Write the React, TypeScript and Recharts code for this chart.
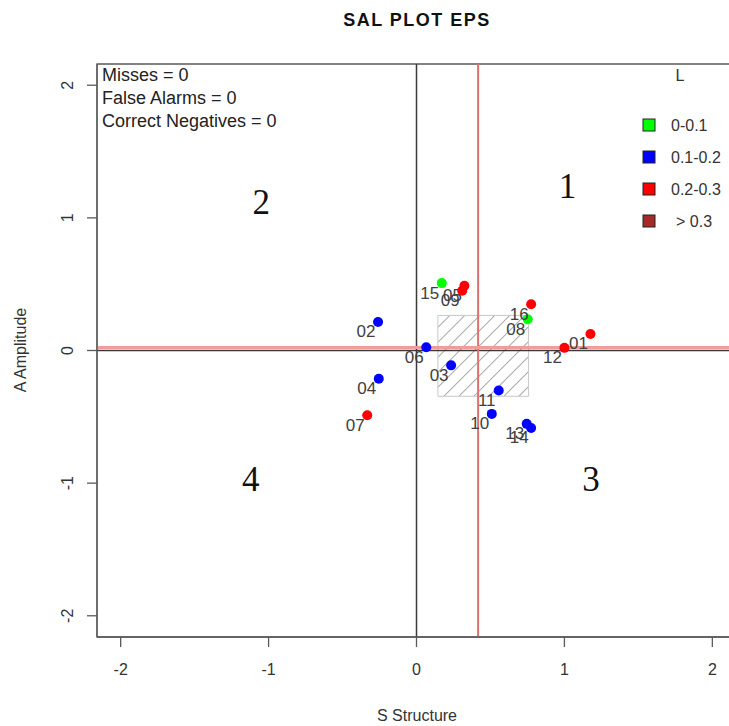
import React from 'react';
import { ScatterChart, Scatter, XAxis, YAxis, ReferenceLine, ReferenceArea } from 'recharts';

// SAL verification objects: structure (S), amplitude (A) and location class (L)
const objectIds = ['01', '02', '03', '04', '05', '06', '07', '08', '09', '10', '11', '12', '13', '14', '15', '16'];
const sValues = [1.176, -0.26, 0.234, -0.255, 0.324, 0.066, -0.333, 0.752, 0.309, 0.509, 0.556, 1.0, 0.745, 0.775, 0.171, 0.775];
const aValues = [0.125, 0.215, -0.112, -0.213, 0.488, 0.025, -0.488, 0.236, 0.45, -0.478, -0.301, 0.02, -0.553, -0.584, 0.508, 0.349];
const lClass = [2, 1, 1, 1, 2, 1, 2, 0, 2, 1, 1, 2, 1, 1, 0, 2];

const classNames = ['0-0.1', '0.1-0.2', '0.2-0.3', '> 0.3'];
const classColors = ['#00ff00', '#0000ff', '#ff0000', '#a52a2a'];

const axisTicks = [-2, -1, 0, 1, 2];
const quadrantNames = ['1', '2', '3', '4'];
const quadrantS = [1.02, -1.05, 1.18, -1.12];
const quadrantA = [1.24, 1.115, -0.97, -0.97];

const statLines = ['Misses = 0', 'False Alarms = 0', 'Correct Negatives = 0'];

const LIM = 2.16;
const SANS = '"Liberation Sans", Arial, sans-serif';
const SERIF = '"Liberation Serif", "Times New Roman", serif';

// R-style (type 7) quantile
const quantile = (vals: number[], p: number) => {
  const s = [...vals].sort((a, b) => a - b);
  const h = (s.length - 1) * p;
  const lo = Math.floor(h);
  const hi = Math.ceil(h);
  return s[lo] + (h - lo) * (s[hi] - s[lo]);
};

const points = objectIds.map((id, i) => ({ id, s: sValues[i], a: aValues[i], cls: lClass[i] }));
const quadrants = quadrantNames.map((name, i) => ({ name, s: quadrantS[i], a: quadrantA[i] }));

// medians (red cross) and interquartile box (hatched)
const sMed = quantile(sValues, 0.5);
const aMed = quantile(aValues, 0.5);
const sQ1 = quantile(sValues, 0.25);
const sQ3 = quantile(sValues, 0.75);
const aQ1 = quantile(aValues, 0.25);
const aQ3 = quantile(aValues, 0.75);

const PointShape = (props: any) => {
  const { cx, cy, payload, fill } = props;
  return (
    <g>
      <circle cx={cx} cy={cy} r={5} fill={fill} />
      <text x={cx - 12} y={cy + 10} textAnchor="middle" dominantBaseline="central"
        fontSize={17} fontFamily={SANS} fill="#404040">{payload.id}</text>
    </g>
  );
};

const QuadrantShape = (props: any) => {
  const { cx, cy, payload } = props;
  return (
    <text x={cx} y={cy} textAnchor="middle" dominantBaseline="central"
      fontSize={35} fontFamily={SERIF} fill="#111">{payload.name}</text>
  );
};

const YTick = (props: any) => {
  const { x, y, payload } = props;
  return (
    <text x={x} y={y} transform={`rotate(-90, ${x}, ${y})`} textAnchor="middle"
      fontSize={16} fontFamily={SANS} fill="#333">{payload.value}</text>
  );
};

export default function App() {
  return (
    <div style={{ position: 'absolute', left: 0, top: 0, width: 729, height: 726, overflow: 'hidden', background: '#fff' }}>
      <svg width={0} height={0} style={{ position: 'absolute' }}>
        <defs>
          <pattern id="salHatch" patternUnits="userSpaceOnUse" width={10.6} height={10.6} patternTransform="rotate(45)">
            <line x1={0} y1={0} x2={0} y2={10.6} stroke="#555" strokeWidth={1} />
          </pattern>
        </defs>
      </svg>
      <ScatterChart width={760} height={726} margin={{ top: 64, right: 24, bottom: 59, left: 57 }}>
        <XAxis type="number" dataKey="s" domain={[-LIM, LIM]} ticks={axisTicks} allowDataOverflow
          height={30} tickSize={10} tickMargin={17}
          axisLine={{ stroke: '#5a5a5a', strokeWidth: 1.3 }} tickLine={{ stroke: '#5a5a5a', strokeWidth: 1.3 }}
          tick={{ fontSize: 16, fontFamily: SANS, fill: '#333' }} />
        <YAxis type="number" dataKey="a" domain={[-LIM, LIM]} ticks={axisTicks} allowDataOverflow
          width={40} tickSize={10} tickMargin={14}
          axisLine={{ stroke: '#5a5a5a', strokeWidth: 1.3 }} tickLine={{ stroke: '#5a5a5a', strokeWidth: 1.3 }}
          tick={<YTick />} />
        <ReferenceArea x1={-LIM} x2={LIM} y1={-LIM} y2={LIM} fill="none" fillOpacity={0}
          stroke="#5a5a5a" strokeWidth={1.3} />
        <ReferenceLine x={0} stroke="#3a3a3a" strokeWidth={1.5} />
        <ReferenceLine y={0} stroke="#3a3a3a" strokeWidth={1.5} />
        <ReferenceLine x={sMed} stroke="#e07070" strokeWidth={2} />
        <ReferenceLine y={aMed} stroke="#f19b9b" strokeWidth={3} />
        <ReferenceArea x1={sQ1} x2={sQ3} y1={aQ1} y2={aQ3} fill="url(#salHatch)" fillOpacity={1}
          stroke="#c8c8c8" strokeWidth={1} />
        <Scatter data={quadrants} shape={<QuadrantShape />} isAnimationActive={false} />
        {classNames.map((name, c) => (
          <Scatter key={name} name={name} data={points.filter(p => p.cls === c)} fill={classColors[c]}
            shape={<PointShape />} isAnimationActive={false} />
        ))}
      </ScatterChart>
      <svg width={729} height={726} style={{ position: 'absolute', left: 0, top: 0, pointerEvents: 'none' }}>
        <text x={417} y={20} textAnchor="middle" dominantBaseline="central" fontSize={18} letterSpacing={1.5}
          fontWeight="bold" fontFamily={SANS} fill="#111">SAL PLOT EPS</text>
        <text x={417} y={715} textAnchor="middle" dominantBaseline="central" fontSize={16}
          fontFamily={SANS} fill="#333">S Structure</text>
        <text x={20} y={350} transform="rotate(-90, 20, 350)" textAnchor="middle" dominantBaseline="central"
          fontSize={16} fontFamily={SANS} fill="#333">A Amplitude</text>
        {statLines.map((t, i) => (
          <text key={t} x={102} y={75 + i * 23} dominantBaseline="central" fontSize={18}
            fontFamily={SANS} fill="#222">{t}</text>
        ))}
        <text x={680} y={75} textAnchor="middle" dominantBaseline="central" fontSize={16}
          fontFamily={SANS} fill="#333">L</text>
        {classNames.map((name, c) => (
          <g key={name}>
            <rect x={643} y={125 + c * 32 - 6} width={12} height={12} fill={classColors[c]} stroke="#222" strokeWidth={1} />
            <text x={c === 3 ? 676 : 671} y={125 + c * 32} dominantBaseline="central" fontSize={16}
              fontFamily={SANS} fill="#333">{name}</text>
          </g>
        ))}
      </svg>
    </div>
  );
}
